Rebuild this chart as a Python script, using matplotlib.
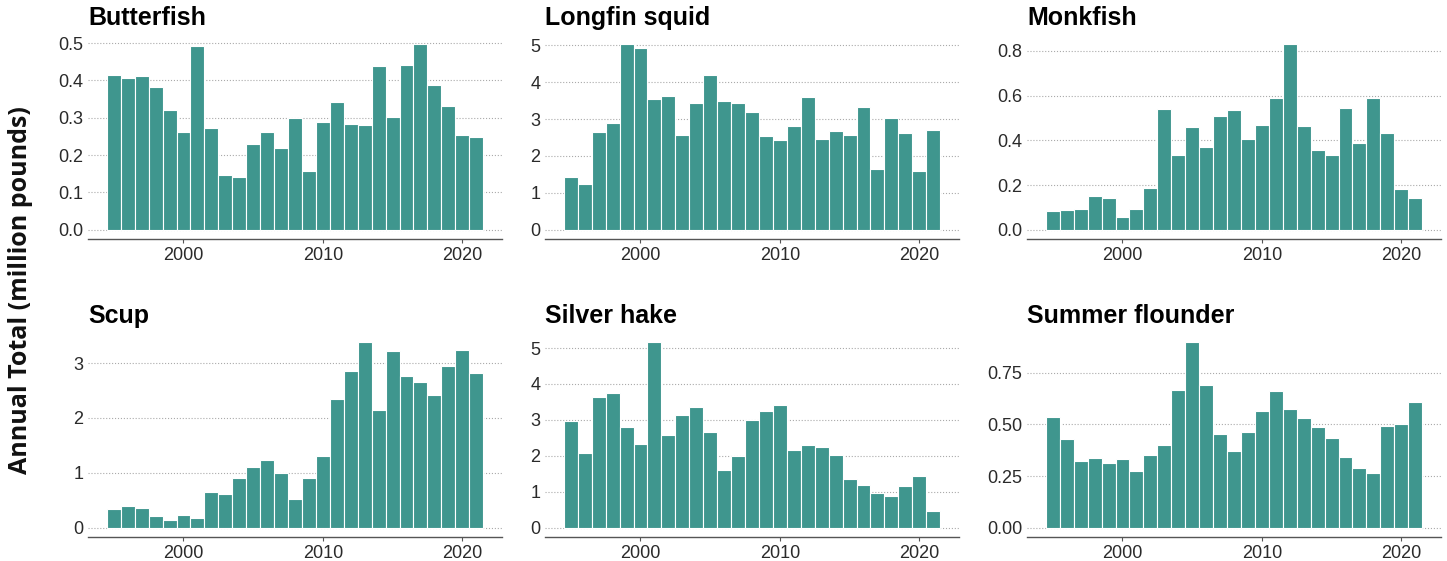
import numpy as np
import matplotlib
matplotlib.use("Agg")
import matplotlib.pyplot as plt
from matplotlib.ticker import FormatStrFormatter

years = np.arange(1995, 2022)

butterfish = [0.415, 0.407, 0.411, 0.382, 0.321, 0.263, 0.492, 0.272, 0.148, 0.142,
              0.229, 0.261, 0.220, 0.299, 0.157, 0.288, 0.342, 0.283, 0.280, 0.439,
              0.302, 0.441, 0.497, 0.389, 0.331, 0.254, 0.249]
longfin_squid = [1.44, 1.23, 2.64, 2.90, 5.03, 4.92, 3.54, 3.63, 2.58, 3.43,
                 4.20, 3.50, 3.43, 3.19, 2.55, 2.44, 2.80, 3.60, 2.47, 2.67,
                 2.58, 3.33, 1.66, 3.04, 2.62, 1.58, 2.71]
monkfish = [0.085, 0.088, 0.091, 0.152, 0.141, 0.058, 0.095, 0.187, 0.541, 0.333,
            0.459, 0.370, 0.510, 0.535, 0.407, 0.467, 0.590, 0.830, 0.464, 0.357,
            0.333, 0.543, 0.387, 0.589, 0.434, 0.183, 0.140]
scup = [0.34, 0.39, 0.36, 0.21, 0.14, 0.24, 0.17, 0.65, 0.61, 0.90,
        1.10, 1.24, 1.00, 0.52, 0.90, 1.31, 2.34, 2.86, 3.38, 2.15,
        3.22, 2.76, 2.66, 2.41, 2.95, 3.24, 2.82]
silver_hake = [2.97, 2.07, 3.63, 3.75, 2.79, 2.33, 5.16, 2.57, 3.13, 3.35,
               2.67, 1.62, 1.99, 2.99, 3.25, 3.41, 2.15, 2.29, 2.26, 2.02,
               1.35, 1.18, 0.98, 0.87, 1.16, 1.43, 0.46]
summer_flounder = [0.538, 0.430, 0.325, 0.338, 0.315, 0.335, 0.275, 0.352, 0.401, 0.666,
                   0.898, 0.692, 0.452, 0.370, 0.462, 0.565, 0.662, 0.573, 0.533, 0.486,
                   0.435, 0.343, 0.290, 0.264, 0.494, 0.502, 0.608]

species = ['Butterfish', 'Longfin squid', 'Monkfish',
           'Scup', 'Silver hake', 'Summer flounder']
series = [butterfish, longfin_squid, monkfish, scup, silver_hake, summer_flounder]
yticks = [np.arange(0, 0.51, 0.1), np.arange(0, 6, 1), np.arange(0, 0.81, 0.2),
          np.arange(0, 4, 1), np.arange(0, 6, 1), np.arange(0, 0.76, 0.25)]
yfmt = ['%.1f', '%d', '%.1f', '%d', '%d', '%.2f']

bar_color = '#3f968e'
text_color = '#2a2a2a'

plt.rcParams['font.family'] = ['Liberation Sans', 'DejaVu Sans']

W, H = 1447, 561
fig = plt.figure(figsize=(W / 100, H / 100), dpi=100)

lefts = [88, 545, 1027]
tops = [35, 333]
pw, ph = 414, 204

for i, (name, vals) in enumerate(zip(species, series)):
    row, col = divmod(i, 3)
    ax = fig.add_axes([lefts[col] / W, 1 - (tops[row] + ph) / H, pw / W, ph / H])
    ax.bar(years, vals, width=1.0, color=bar_color, edgecolor='white',
           linewidth=0.8, zorder=2)
    vmax = max(vals)
    ax.set_ylim(-0.05 * vmax, 1.05 * vmax)
    ax.set_xlim(1993.15, 2022.85)
    ax.set_yticks(yticks[i])
    ax.yaxis.set_major_formatter(FormatStrFormatter(yfmt[i]))
    ax.set_xticks([2000, 2010, 2020])
    ax.grid(axis='y', linestyle=':', color='#aaaaaa', linewidth=0.8, zorder=0)
    for s in ['top', 'right', 'left']:
        ax.spines[s].set_visible(False)
    ax.spines['bottom'].set_color('#555555')
    ax.spines['bottom'].set_linewidth(1.0)
    ax.tick_params(axis='y', length=0, labelsize=13, labelcolor=text_color, pad=3.5)
    ax.tick_params(axis='x', length=3, color='#555555', labelsize=13,
                   labelcolor=text_color, pad=3)
    ax.set_title(name, loc='left', fontsize=18, fontweight='bold', pad=7)

fig.text(21 / W, 1 - 290 / H, 'Annual Total (million pounds)', rotation=90,
         ha='center', va='center', fontsize=18, fontweight='bold',
         family=['Open Sans', 'DejaVu Sans'], color='#111111')

fig.savefig('out.png', dpi=100)
